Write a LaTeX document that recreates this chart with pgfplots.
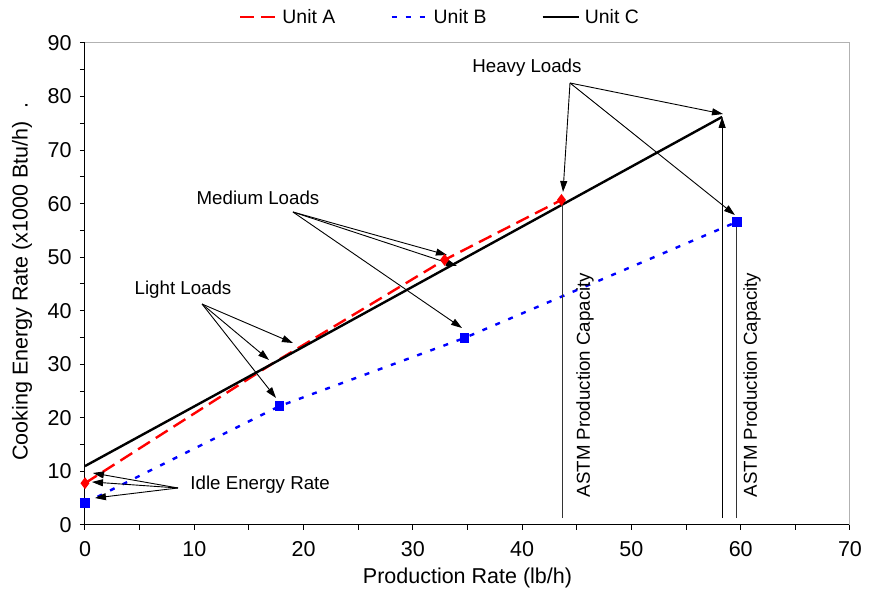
\documentclass[border=0pt]{standalone}
\usepackage{pgfplots}
\pgfplotsset{compat=1.18}
\usepackage{fontspec}
\setmainfont{Liberation Sans}
\usetikzlibrary{arrows.meta}

\begin{document}
\begin{tikzpicture}[font=\fontsize{18.7}{22}\selectfont,
  annot/.style={black, line width=0.9pt, -{Triangle[length=11pt,width=7pt]}}]
\begin{axis}[
    name=ax,
    scale only axis,
    width=765pt, height=482pt,
    xmin=0, xmax=70, ymin=0, ymax=90,
    axis x line*=bottom,
    axis y line*=left,
    axis line style={line width=1pt, -},
    xtick={0,10,...,70}, ytick={0,10,...,90},
    minor x tick num=1, minor y tick num=1,
    tick align=outside,
    major tick length=5pt, minor tick length=5pt,
    tick style={black, line width=1pt},
    tick label style={font=\fontsize{21.5}{25}\selectfont},
    yticklabel style={xshift=-5pt},
    xticklabel style={yshift=-8pt},
    /pgf/number format/assume math mode=true,
    xlabel={Production Rate (lb/h)},
    ylabel={Cooking Energy Rate (x1000 Btu/h)\hspace{0.6em}.},
    label style={font=\fontsize{21.5}{25}\selectfont},
    xlabel style={at={(axis description cs:0.5,-0.11)}, anchor=center},
    ylabel style={at={(axis description cs:-0.0824,0.505)}, anchor=center},
    clip=false,
    legend style={at={(0.464,1.054)}, anchor=center, draw=none, fill=none,
        legend columns=-1, font=\fontsize{19.4}{23}\selectfont,
        /tikz/every odd column/.append style={column sep=3pt},
        /tikz/every even column/.append style={column sep=53pt}},
    legend image code/.code={\draw[#1, mark=none] (0pt,0pt) -- (36pt,0pt);},
]
% chart frame: light top and right border
\draw[black!30, line width=1pt] (axis cs:0,90) -- (axis cs:70,90) -- (axis cs:70,0);

\addplot[red, line width=2.4pt, dash pattern=on 14pt off 7pt,
    mark=diamond*, mark size=4pt, mark options={solid}, mark indices={1,3,4}]
    coordinates {(0,7.8) (17.2,30.2) (32.9,49.5) (43.6,60.7)};
\addplot[blue, line width=2.4pt, dash pattern=on 5pt off 9pt,
    mark=square*, mark size=3.5pt, mark options={solid}]
    coordinates {(0,4.1) (17.8,22.2) (34.7,34.9) (59.65,56.6)};
\addplot[black, line width=2.4pt, mark=none]
    coordinates {(0,11.0) (19.2,32.4) (33.2,48.1) (58.3,76.2)};
\legend{Unit A, Unit B, Unit C}

% idle
\node[anchor=west] at (axis cs:9.33,7.47) {Idle Energy Rate};
\draw[annot] (axis cs:8.51,6.91) -- (axis cs:0.73,9.71);
\draw[annot] (axis cs:8.51,6.91) -- (axis cs:0.64,8.03);
\draw[annot] (axis cs:8.51,6.91) -- (axis cs:0.91,5.04);
% light
\node at (axis cs:8.97,43.9) {Light Loads};
\draw[annot] (axis cs:10.71,41.26) -- (axis cs:19.03,33.98);
\draw[annot] (axis cs:10.71,41.26) -- (axis cs:16.84,30.81);
\draw[annot] (axis cs:10.71,41.26) -- (axis cs:17.48,23.71);
% medium
\node at (axis cs:15.83,61.06) {Medium Loads};
\draw[annot] (axis cs:19.03,58.44) -- (axis cs:33.12,50.41);
\draw[annot] (axis cs:19.03,58.44) -- (axis cs:34.04,48.36);
\draw[annot] (axis cs:19.03,58.44) -- (axis cs:34.5,36.78);
% heavy
\node at (axis cs:40.44,85.33) {Heavy Loads};
\draw[annot] (axis cs:44.38,82.53) -- (axis cs:43.74,62.18);
\draw[annot] (axis cs:44.38,82.53) -- (axis cs:58.38,76.74);
\draw[annot] (axis cs:44.38,82.53) -- (axis cs:59.47,57.88);
% production capacity
\draw[black!80, line width=0.9pt] (axis cs:43.7,1.3) -- (axis cs:43.7,60.7);
\draw[annot] (axis cs:58.3,1.3) -- (axis cs:58.3,76.2);
\draw[black!80, line width=0.9pt] (axis cs:59.6,1.3) -- (axis cs:59.6,55.8);
\node[rotate=90] at (axis cs:45.75,26.14) {ASTM Production Capacity};
\node[rotate=90] at (axis cs:61.03,26.14) {ASTM Production Capacity};
\end{axis}
\pgfresetboundingbox
\path[use as bounding box] ([xshift=-85pt,yshift=-68pt]ax.south west)
    rectangle ([xshift=786pt,yshift=525pt]ax.south west);
\end{tikzpicture}
\end{document}
